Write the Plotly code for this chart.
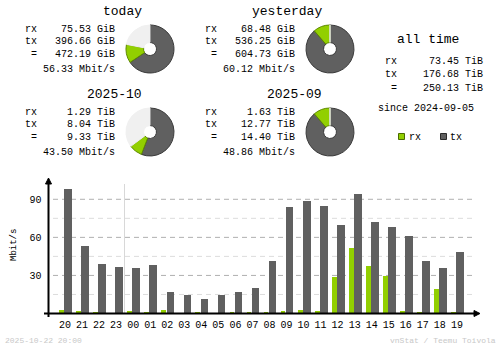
import plotly.graph_objects as go

W, H = 500, 348
MONO = "Liberation Mono"

RX_COLOR = "#92cf00"
TX_COLOR = "#606060"
EMPTY_COLOR = "#f0f0f0"

# ---- hourly traffic (Mbit/s) ----
hours = ["20", "21", "22", "23", "00", "01", "02", "03", "04", "05", "06", "07",
         "08", "09", "10", "11", "12", "13", "14", "15", "16", "17", "18", "19"]
rx_mbit = [2.6, 1.8, 1.0, 0.3, 1.8, 1.0, 2.6, 0.3, 1.0, 0.3, 1.0, 0.5,
           1.0, 1.8, 2.6, 1.8, 28.7, 51.6, 37.4, 29.5, 1.8, 1.0, 19.1, 1.0]
tx_mbit = [98.1, 53.1, 38.9, 36.5, 35.8, 38.2, 16.8, 14.4, 11.3, 14.4, 16.8, 19.9,
           41.2, 83.9, 88.6, 84.7, 69.7, 94.2, 72.1, 68.1, 61.0, 41.2, 35.8, 48.6]
y_ticks = [30, 60, 90]

# ---- summary blocks ----
period_titles = ["today", "yesterday", "2025-10", "2025-09"]
period_rx = [75.53, 68.48, 1.29, 1.63]
period_tx = [396.66, 536.25, 8.04, 12.77]
period_total = [472.19, 604.73, 9.33, 14.40]
period_unit = ["GiB", "GiB", "TiB", "TiB"]
period_rate = ["56.33", "60.12", "43.50", "48.86"]
# each current period's pie is scaled against the previous period's total
period_ref = [604.73, 604.73, 14.40, 14.40]

alltime_rx = "73.45 TiB"
alltime_tx = "176.68 TiB"
alltime_total = "250.13 TiB"
since_date = "2024-09-05"
footer_left = "2025-10-22 20:00"
footer_right = "vnStat / Teemu Toivola"


def px(x):
    return x / W


def py(y):
    return 1 - y / H


fig = go.Figure()

# bars: rx narrow on the left, tx wider on the right of each hour slot
fig.add_trace(go.Bar(x=hours, y=rx_mbit, marker=dict(color=RX_COLOR, line_width=0),
                     width=0.28, offset=-0.37, name="rx", showlegend=False))
fig.add_trace(go.Bar(x=hours, y=tx_mbit, marker=dict(color=TX_COLOR, line_width=0),
                     width=0.45, offset=-0.07, name="tx", showlegend=False))

# pies
pie_centers = [(150, 49), (330, 49), (150, 132), (330, 132)]
R = 24
for i, (cx, cy) in enumerate(pie_centers):
    rest = max(period_ref[i] - period_total[i], 0)
    fig.add_trace(go.Pie(
        values=[period_tx[i], period_rx[i], rest],
        labels=["tx", "rx", "-"],
        marker=dict(colors=[TX_COLOR, RX_COLOR, EMPTY_COLOR],
                    line=dict(color=["#3a3a3a", "#5f8a00", EMPTY_COLOR], width=1)),
        sort=False, direction="clockwise", rotation=0, hole=0.27,
        textinfo="none", hoverinfo="skip", showlegend=False,
        domain=dict(x=[px(cx - R), px(cx + R)], y=[py(cy + R), py(cy - R)]),
    ))

annotations = []


def text(x, y, s, anchor="left", size=10, color="#000000", angle=0):
    annotations.append(dict(x=px(x), y=py(y), xref="paper", yref="paper", text=s,
                            showarrow=False, xanchor=anchor, yanchor="middle",
                            textangle=angle, borderpad=0,
                            font=dict(family=MONO, size=size, color=color)))


# summary text blocks
block_origin = [(0, 0), (180, 0), (0, 83), (180, 83)]
for i, (ox, oy) in enumerate(block_origin):
    text(143 + ox, 12 + oy, period_titles[i], anchor="right", size=13)
    text(38 + ox, 29.5 + oy, "rx", anchor="right")
    text(38 + ox, 41.5 + oy, "tx", anchor="right")
    text(38 + ox, 54.5 + oy, "=", anchor="right")
    text(116 + ox, 29.5 + oy, f"{period_rx[i]:.2f} {period_unit[i]}", anchor="right")
    text(116 + ox, 41.5 + oy, f"{period_tx[i]:.2f} {period_unit[i]}", anchor="right")
    text(116 + ox, 54.5 + oy, f"{period_total[i]:.2f} {period_unit[i]}", anchor="right")
    text(116 + ox, 69.5 + oy, f"{period_rate[i]} Mbit/s", anchor="right")

# all time block
text(428, 40, "all time", anchor="center", size=13)
text(398, 62, "rx", anchor="right")
text(398, 74, "tx", anchor="right")
text(398, 88, "=", anchor="right")
text(484, 62, alltime_rx, anchor="right")
text(484, 74, alltime_tx, anchor="right")
text(484, 88, alltime_total, anchor="right")
text(426, 108.5, f"since {since_date}", anchor="center")

# legend
text(408, 137, "rx", anchor="left")
text(449, 137, "tx", anchor="left")

# axis title
text(14, 245, "Mbit/s", anchor="center", size=9, angle=-90)

# footer
text(4, 340, footer_left, anchor="left", size=8, color="#c8c8c8")
text(497, 340, footer_right, anchor="right", size=8, color="#c8c8c8")

shapes = []

# grid lines (major every 30, minor half-way)
for v in [15, 45, 75]:
    shapes.append(dict(type="line", xref="paper", yref="y", x0=px(53), x1=px(473), y0=v, y1=v,
                       line=dict(color="#dcdcdc", width=1, dash="5px,4px"), layer="below"))
for v in y_ticks:
    shapes.append(dict(type="line", xref="paper", yref="y", x0=px(53), x1=px(473), y0=v, y1=v,
                       line=dict(color="#b0b0b0", width=1, dash="5px,4px"), layer="below"))

# day boundary
shapes.append(dict(type="line", xref="paper", yref="paper", x0=px(124.5), x1=px(124.5),
                   y0=py(184), y1=py(313), line=dict(color="#d8d8d8", width=1), layer="below"))

# axes with arrow heads
shapes.append(dict(type="line", xref="paper", yref="paper", x0=px(44), x1=px(476),
                   y0=py(313.5), y1=py(313.5), line=dict(color="#000000", width=2)))
shapes.append(dict(type="line", xref="paper", yref="paper", x0=px(48.5), x1=px(48.5),
                   y0=py(317), y1=py(181), line=dict(color="#000000", width=2)))
shapes.append(dict(type="path", xref="paper", yref="paper",
                   path=f"M {px(48.5)} {py(178)} L {px(45.5)} {py(184)} L {px(51.5)} {py(184)} Z",
                   fillcolor="#000000", line=dict(color="#000000", width=1)))
shapes.append(dict(type="path", xref="paper", yref="paper",
                   path=f"M {px(480)} {py(313.5)} L {px(474)} {py(310.5)} L {px(474)} {py(316.5)} Z",
                   fillcolor="#000000", line=dict(color="#000000", width=1)))

# legend swatches
shapes.append(dict(type="rect", xref="paper", yref="paper", x0=px(398.5), x1=px(404.5),
                   y0=py(139.5), y1=py(133.5), fillcolor=RX_COLOR, line=dict(color="#4a6a00", width=1)))
shapes.append(dict(type="rect", xref="paper", yref="paper", x0=px(440.5), x1=px(446.5),
                   y0=py(139.5), y1=py(133.5), fillcolor=TX_COLOR, line=dict(color="#2a2a2a", width=1)))

fig.update_layout(
    width=W, height=H,
    margin=dict(l=0, r=0, t=0, b=0),
    paper_bgcolor="#ffffff", plot_bgcolor="rgba(0,0,0,0)",
    barmode="overlay", bargap=0,
    annotations=annotations, shapes=shapes,
    xaxis=dict(domain=[px(48.5), px(477)], range=[-0.967, 24.18], type="category",
               showgrid=False, zeroline=False, showline=False, ticks="",
               tickfont=dict(family=MONO, size=10, color="#000000"),
               ticklabelstandoff=3),
    yaxis=dict(domain=[py(313.5), py(180)], range=[0, 105.2],
               tickvals=y_ticks, ticktext=[str(v) for v in y_ticks],
               showgrid=False, zeroline=False, showline=False, ticks="",
               tickfont=dict(family=MONO, size=10, color="#000000"),
               ticklabelstandoff=6),
)

fig.write_html("out.html")
